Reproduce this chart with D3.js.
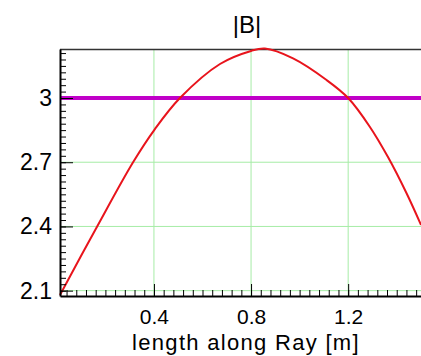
<!DOCTYPE html>
<html>
<head>
<meta charset="utf-8">
<script src="https://cdn.jsdelivr.net/npm/d3@7"></script>
<style>
    body { margin: 0; background: #fff; }
    svg { display: block; font-family: "Liberation Sans", Arial, sans-serif; }
    .grid line { stroke: #a6eca6; stroke-width: 1; }
    .axis path, .axis line { stroke: #000; }
    .axis text { fill: #000; }
</style>
</head>
<body>
<div id="chart"></div>
<script>
var margin = { top: 49, right: 0, bottom: 60, left: 60 },
    width = 421 - margin.left - margin.right,
    height = 356 - margin.top - margin.bottom;

// ray length [m] and |B|
let rayLength = [0.013, 0.166, 0.314, 0.404, 0.507, 0.672, 0.8, 0.857, 0.973, 1.111, 1.2, 1.289, 1.364, 1.44, 1.5]
let bMag = [2.08, 2.4, 2.7, 2.855, 3.0, 3.159, 3.22, 3.231, 3.185, 3.084, 3.0, 2.866, 2.724, 2.556, 2.407]

// reference level
let bRef = 3.0

let xTicks = [0.4, 0.8, 1.2]
let yTicks = [2.1, 2.4, 2.7, 3.0]
let yTickLabels = ["2.1", "2.4", "2.7", "3"]

let xScale = d3.scaleLinear()
    .domain([0.013, 1.5])
    .range([0, width])

let yScale = d3.scaleLinear()
    .domain([2.075, 3.229])
    .range([height, 0])

let svg = d3.select("#chart")
    .append("svg")
    .attr("width", 421)
    .attr("height", 356)

// title
svg.append("text")
    .attr("x", 247)
    .attr("y", 33)
    .attr("text-anchor", "middle")
    .style("font-size", "24px")
    .text("|B|")

let g = svg.append("g")
    .attr("transform", "translate(" + margin.left + "," + margin.top + ")")

// green grid
g.append("g")
    .attr("class", "grid")
    .selectAll("line.v")
    .data(xTicks)
    .enter()
    .append("line")
    .attr("x1", d => xScale(d))
    .attr("x2", d => xScale(d))
    .attr("y1", 0)
    .attr("y2", height)

g.append("g")
    .attr("class", "grid")
    .selectAll("line.h")
    .data(yTicks)
    .enter()
    .append("line")
    .attr("x1", 0)
    .attr("x2", width)
    .attr("y1", d => yScale(d))
    .attr("y2", d => yScale(d))

// top frame
g.append("line")
    .attr("x1", 0)
    .attr("x2", width)
    .attr("y1", 0.5)
    .attr("y2", 0.5)
    .style("stroke", "#333")
    .style("stroke-width", 1.5)

// reference line
g.append("line")
    .attr("x1", 0)
    .attr("x2", width)
    .attr("y1", yScale(bRef))
    .attr("y2", yScale(bRef))
    .style("stroke", "#c000c8")
    .style("stroke-width", 4)

let line = d3.line()
    .x((d, i) => xScale(rayLength[i]))
    .y(d => yScale(d))
    .curve(d3.curveCatmullRom.alpha(0.5))

g.append("path")
    .datum(bMag)
    .attr("d", line)
    .style("fill", "none")
    .style("stroke", "#e8141c")
    .style("stroke-width", 2)

// minor ticks
let xMinor = d3.range(1, 38).map(i => i * 0.04)
let yMinor = d3.range(0, 38).map(i => 2.1 + i * 0.03)

g.append("g")
    .attr("class", "axis")
    .attr("transform", "translate(0," + height + ")")
    .call(d3.axisBottom(xScale).tickValues(xMinor).tickSize(-6).tickFormat(""))
    .call(a => a.select(".domain").remove())

g.append("g")
    .attr("class", "axis")
    .call(d3.axisLeft(yScale).tickValues(yMinor).tickSize(-6).tickFormat(""))
    .call(a => a.select(".domain").remove())

// major axes
g.append("g")
    .attr("class", "axis")
    .attr("transform", "translate(0," + height + ")")
    .call(d3.axisBottom(xScale).tickValues(xTicks).tickSize(-12).tickPadding(13).tickSizeOuter(0).tickFormat(d3.format(".1f")))
    .call(a => a.select(".domain").style("stroke-width", 2))
    .selectAll("text")
    .style("font-size", "21px")

g.append("g")
    .attr("class", "axis")
    .call(d3.axisLeft(yScale).tickValues(yTicks).tickSize(-13).tickPadding(8).tickSizeOuter(0).tickFormat((d, i) => yTickLabels[i]))
    .call(a => a.select(".domain").style("stroke-width", 2))
    .selectAll("text")
    .style("font-size", "23px")

// x-axis title
svg.append("text")
    .attr("x", 246)
    .attr("y", 350)
    .attr("text-anchor", "middle")
    .style("font-size", "22px")
    .style("letter-spacing", "1.3px")
    .text("length along Ray [m]")
</script>
</body>
</html>
